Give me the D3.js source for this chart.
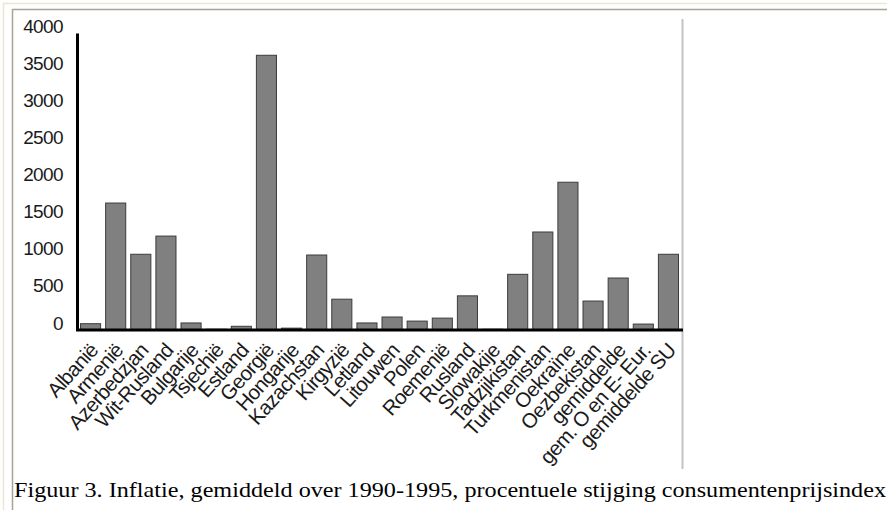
<!DOCTYPE html>
<html>
<head>
<meta charset="utf-8">
<script src="https://cdn.jsdelivr.net/npm/d3@7"></script>
<style>
  body { margin: 0; background: #fff; }
  svg { display: block; }
</style>
</head>
<body>
<svg id="chart" width="887" height="510"></svg>
<script>
var landen = ["Albanië", "Armenië", "Azerbedzjan", "Wit-Rusland", "Bulgarije", "Tsjechië",
    "Estland", "Georgië", "Hongarije", "Kazachstan", "Kirgyzië", "Letland", "Litouwen",
    "Polen", "Roemenië", "Rusland", "Slowakije", "Tadzjikistan", "Turkmenistan", "Oekraïne",
    "Oezbekistan", "gemiddelde", "gem. O en E- Eur.", "gemiddelde SU"];
var inflatie = [85, 1710, 1020, 1265, 95, 10, 50, 3700, 25, 1010, 415, 95, 175,
    120, 160, 460, 10, 750, 1320, 1990, 390, 700, 80, 1020];
var yTicks = [0, 500, 1000, 1500, 2000, 2500, 3000, 3500, 4000];
var bijschrift = "Figuur 3. Inflatie, gemiddeld over 1990-1995, procentuele stijging consumentenprijsindex";

var svg = d3.select("#chart");

// kader van de pagina
svg.append("line").attr("x1", 3).attr("x2", 887).attr("y1", 3.5).attr("y2", 3.5)
    .attr("stroke", "#ece6d2").attr("stroke-width", 1.5);
svg.append("line").attr("x1", 3.5).attr("x2", 3.5).attr("y1", 3).attr("y2", 510)
    .attr("stroke", "#ece6d2").attr("stroke-width", 1.5);
svg.append("line").attr("x1", 12).attr("x2", 887).attr("y1", 9.5).attr("y2", 9.5)
    .attr("stroke", "#a8a494").attr("stroke-width", 1.5);
svg.append("line").attr("x1", 12.5).attr("x2", 12.5).attr("y1", 9).attr("y2", 510)
    .attr("stroke", "#a8a494").attr("stroke-width", 1.5);
svg.append("line").attr("x1", 682.5).attr("x2", 682.5).attr("y1", 19).attr("y2", 469)
    .attr("stroke", "#c4c4c4").attr("stroke-width", 2);

var x = d3.scaleBand()
    .domain(landen)
    .range([78, 681])
    .paddingInner(0.2)
    .paddingOuter(0.1);

var y = d3.scaleLinear()
    .domain([0, 4000])
    .range([330, 33]);

// staven
svg.append("g").selectAll("rect")
    .data(landen)
    .enter().append("rect")
    .attr("x", function (d) { return x(d); })
    .attr("width", x.bandwidth())
    .attr("y", function (d, i) { return y(inflatie[i]); })
    .attr("height", function (d, i) { return y(0) - y(inflatie[i]); })
    .attr("fill", "#808080")
    .attr("stroke", "#3c3c3c")
    .attr("stroke-width", 1);

// y-as
var yAxis = svg.append("g")
    .attr("transform", "translate(77,0)")
    .call(d3.axisLeft(y).tickValues(yTicks).tickSize(0).tickPadding(14).tickFormat(d3.format("d")));
yAxis.select(".domain").attr("stroke", "#000").attr("stroke-width", 3);
yAxis.selectAll("text")
    .attr("font-family", "'Liberation Sans', Arial, sans-serif")
    .attr("font-size", 19)
    .attr("letter-spacing", -0.6)
    .attr("fill", "#1a1a1a")
    .attr("dy", "-0.05em");

// x-as
var xAxis = svg.append("g")
    .attr("transform", "translate(0,330)")
    .call(d3.axisBottom(x).tickSize(0).tickPadding(0));
xAxis.select(".domain").attr("stroke", "#000").attr("stroke-width", 3)
    .attr("d", "M76,0H683");
xAxis.selectAll("text")
    .attr("font-family", "'Liberation Sans', Arial, sans-serif")
    .attr("font-size", 20.5)
    .attr("letter-spacing", -0.6)
    .attr("fill", "#1a1a1a")
    .attr("text-anchor", "end")
    .attr("dy", "0.3em")
    .attr("y", 0)
    .attr("transform", "translate(4,17) rotate(-48)");

svg.append("text")
    .attr("x", 14)
    .attr("y", 497)
    .attr("font-family", "'Liberation Serif', 'Times New Roman', serif")
    .attr("font-size", 22)
    .attr("textLength", 872)
    .attr("lengthAdjust", "spacingAndGlyphs")
    .attr("fill", "#000")
    .text(bijschrift);
</script>
</body>
</html>
